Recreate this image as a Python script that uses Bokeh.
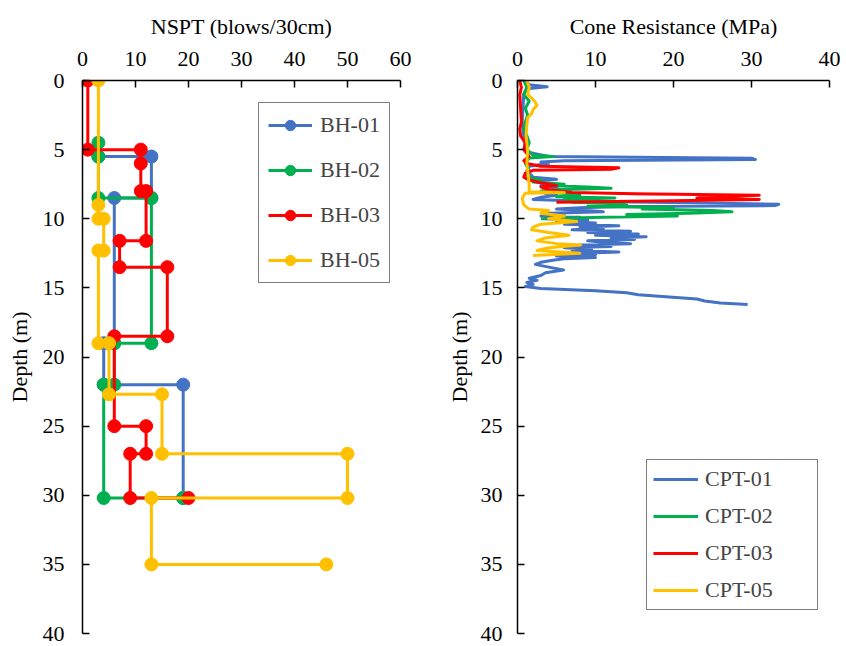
from bokeh.plotting import figure
from bokeh.models import Range1d, FixedTicker, Legend, LegendItem
from bokeh.layouts import row
from bokeh.embed import file_html
from bokeh.resources import INLINE

# ---------------- NSPT data (blows/30cm vs depth m) ----------------
bh01_n = [3, 13, 13, 6, 6, 4, 4, 19, 19]
bh01_d = [5.5, 5.5, 8.5, 8.5, 19, 19, 22, 22, 30.2]
bh02_n = [3, 3, 3, 13, 13, 6, 6, 4, 4, 19]
bh02_d = [4.5, 5.5, 8.5, 8.5, 19, 19, 22, 22, 30.2, 30.2]
bh03_n = [1, 1, 11, 11, 11, 12, 12, 7, 7, 16, 16, 6, 6, 12, 12, 9, 9, 20]
bh03_d = [0, 5, 5, 6, 8, 8, 11.6, 11.6, 13.5, 13.5, 18.5, 18.5, 25, 25, 27, 27, 30.2, 30.2]
bh05_n = [3, 3, 3, 4, 4, 3, 3, 5, 5, 15, 15, 50, 50, 13, 13, 46]
bh05_d = [0, 9, 10, 10, 12.3, 12.3, 19, 19, 22.7, 22.7, 27, 27, 30.2, 30.2, 35, 35]

# ---------------- CPT data (cone resistance MPa vs depth m) ----------------
cpt01_d = [0.0, 0.3, 0.45, 0.6, 1.0, 2.0, 3.0, 4.0, 4.8, 5.2, 5.5, 5.62, 5.72, 5.8, 5.9, 6.0,
           6.2, 6.5, 7.0, 7.15, 7.3, 7.45, 7.6, 7.8, 8.0, 8.15, 8.3, 8.45, 8.6, 8.75, 8.85, 8.95,
           9.05, 9.12, 9.2, 9.3, 9.4, 9.5, 9.6, 9.7, 9.8, 9.9, 10.0, 10.1, 10.2, 10.3, 10.4, 10.5,
           10.6, 10.7, 10.8, 10.9, 11.0, 11.1, 11.2, 11.3, 11.4, 11.5, 11.6, 11.7, 11.8, 11.9,
           12.0, 12.1, 12.2, 12.3, 12.4, 12.5, 12.6, 12.7, 12.8, 12.9, 13.0, 13.15, 13.3, 13.5,
           13.7, 13.9, 14.1, 14.3, 14.45, 14.6, 14.75, 14.9, 15.05, 15.2, 15.35, 15.5, 15.65,
           15.8, 15.95, 16.1, 16.2]
cpt01_q = [1.0, 1.5, 3.8, 1.2, 0.8, 0.7, 0.6, 0.8, 1.0, 1.5, 4.0, 30.0, 30.5, 6.0, 3.0, 4.0,
           1.5, 1.2, 2.0, 5.0, 2.0, 4.0, 3.0, 5.0, 6.0, 3.5, 5.0, 3.0, 2.0, 10.0, 22.0, 33.5,
           33.0, 14.0, 8.0, 5.0, 9.0, 11.0, 4.0, 6.0, 3.0, 8.0, 3.5, 9.0, 5.0, 10.0, 6.0, 13.0,
           8.0, 11.0, 7.0, 14.5, 9.0, 15.5, 10.0, 16.5, 12.0, 15.0, 9.0, 11.0, 14.5, 8.0,
           12.0, 6.0, 9.5, 7.0, 13.0, 8.0, 10.0, 5.0, 10.0, 6.0, 4.5, 3.0, 2.3, 4.0,
           5.9, 3.6, 3.0, 1.5, 2.5, 1.2, 2.0, 1.0, 3.0, 10.0, 14.0, 15.5, 19.0,
           23.0, 24.0, 26.0, 29.5]
cpt02_d = [0.0, 0.5, 1.0, 1.5, 2.0, 2.5, 3.0, 3.5, 4.0, 4.5, 5.0, 5.4, 5.5, 5.6, 6.0, 6.5, 7.0,
           7.2, 7.35, 7.5, 7.6, 7.7, 7.8, 7.9, 8.0, 8.1, 8.2, 8.3, 8.4, 8.5, 8.6, 8.7, 8.8, 8.9,
           9.0, 9.1, 9.2, 9.3, 9.4, 9.5, 9.6, 9.7, 9.8, 9.9, 10.0]
cpt02_q = [0.8, 1.2, 0.8, 1.5, 1.0, 1.3, 1.0, 0.8, 1.2, 1.5, 1.2, 2.0, 4.6, 1.5, 1.0, 1.5, 1.2,
           3.0, 2.0, 6.0, 4.0, 9.0, 12.0, 5.0, 3.0, 4.0, 7.0, 8.0, 5.0, 12.5, 6.0, 10.0, 7.0,
           13.0, 14.0, 9.0, 20.0, 16.0, 25.0, 27.5, 22.0, 14.0, 20.5, 11.0, 3.0]
cpt03_d = [0.0, 0.5, 1.0, 2.0, 3.0, 3.5, 4.0, 4.5, 5.0, 5.5, 5.8, 6.0, 6.2, 6.32, 6.42, 6.5,
           6.7, 7.0, 7.2, 7.4, 7.6, 7.7, 7.9, 8.1, 8.2, 8.3, 8.4, 8.5, 8.6, 8.7, 8.8]
cpt03_q = [0.3, 0.5, 0.3, 0.4, 0.5, 0.3, 0.4, 1.0, 0.8, 1.5, 0.8, 1.2, 3.0, 13.0, 12.0, 2.0,
           1.0, 0.8, 1.5, 3.0, 5.0, 3.0, 4.0, 7.0, 15.0, 31.0, 25.0, 23.0, 31.0, 20.0, 5.0]
cpt05_d = [0.0, 0.5, 1.0, 1.5, 1.8, 2.1, 2.4, 2.7, 3.2, 4.0, 5.0, 6.0, 7.0, 7.6, 8.05, 8.1, 8.15,
           8.5, 9.0, 9.3, 9.4, 9.6, 9.8, 10.0, 10.2, 10.4, 10.6, 10.8, 11.0, 11.2, 11.4, 11.6,
           11.8, 11.9, 12.1, 12.3, 12.5, 12.65]
cpt05_q = [1.2, 1.5, 1.3, 2.2, 2.5, 2.0, 1.8, 1.3, 1.2, 1.1, 1.3, 1.2, 1.4, 1.5, 1.5, 6.0, 1.0,
           0.6, 0.8, 1.5, 4.0, 3.0, 6.0, 4.0, 7.6, 3.0, 2.0, 1.8, 4.0, 6.6, 3.5, 2.5,
           5.0, 8.1, 4.0, 2.5, 8.0, 2.0]

nspt_ticks = [0, 10, 20, 30, 40, 50, 60]
cpt_ticks = [0, 10, 20, 30, 40]
depth_ticks = [0, 5, 10, 15, 20, 25, 30, 35, 40]

BLUE, GREEN, RED, YELLOW = "#4472C4", "#00B050", "#FF0000", "#FFC000"
FONT = "Liberation Serif"
FS = "22px"


def style(p, xlabel, x_ticks, lab_standoff, tick_standoff, title_standoff):
    p.xgrid.visible = False
    p.ygrid.visible = False
    p.outline_line_color = None
    for ax in (p.above[0], p.left[0]):
        ax.major_label_text_font = FONT
        ax.major_label_text_font_size = FS
        ax.major_label_text_color = "black"
        ax.axis_label_text_font = FONT
        ax.axis_label_text_font_size = FS
        ax.axis_label_text_font_style = "normal"
        ax.axis_label_text_color = "black"
        ax.axis_line_color = "black"
        ax.axis_line_width = 1.5
        ax.major_tick_line_color = "black"
        ax.major_tick_line_width = 1.5
        ax.major_tick_in = 7
        ax.major_tick_out = 0
        ax.minor_tick_line_color = None
    p.above[0].ticker = FixedTicker(ticks=x_ticks)
    p.above[0].major_label_standoff = tick_standoff
    p.left[0].axis_label = "Depth (m)"
    p.left[0].major_label_standoff = lab_standoff
    p.left[0].axis_label_standoff = 8
    p.left[0].ticker = FixedTicker(ticks=depth_ticks)
    # x-axis title as the figure title, centred above the top axis
    p.title.text = xlabel
    p.title.align = "center"
    p.title.text_font = FONT
    p.title.text_font_size = FS
    p.title.text_font_style = "normal"
    p.title.text_color = "black"
    p.title.standoff = title_standoff
    p.title.offset = 0


# ---------------- Left: NSPT ----------------
p1 = figure(width=440, height=646, frame_width=318, frame_height=553,
            x_range=Range1d(0, 60), y_range=Range1d(40, 0),
            x_axis_location="above", title_location="above",
            toolbar_location=None, output_backend="svg",
            min_border_left=82, min_border_right=40, min_border_top=80, min_border_bottom=13)
style(p1, "NSPT (blows/30cm)", nspt_ticks, 18, 15, 19)

items1 = []
for name, n, d, c in [("BH-01", bh01_n, bh01_d, BLUE), ("BH-02", bh02_n, bh02_d, GREEN),
                      ("BH-03", bh03_n, bh03_d, RED), ("BH-05", bh05_n, bh05_d, YELLOW)]:
    l = p1.line(n, d, line_color=c, line_width=3)
    s = p1.scatter(n, d, marker="circle", size=13, fill_color=c, line_color=c)
    items1.append(LegendItem(label=name, renderers=[l, s]))

leg1 = Legend(items=items1, location=(176, 350), label_text_font=FONT, label_text_font_size=FS,
              label_height=26, glyph_height=26, glyph_width=44, spacing=19, padding=9,
              label_standoff=8, border_line_color="black", border_line_width=1.5,
              background_fill_alpha=1.0)
p1.add_layout(leg1, "center")

# ---------------- Right: CPT ----------------
p2 = figure(width=406, height=646, frame_width=312, frame_height=553,
            x_range=Range1d(0, 40), y_range=Range1d(40, 0),
            x_axis_location="above", title_location="above",
            toolbar_location=None, output_backend="svg",
            min_border_left=77, min_border_right=17, min_border_top=80, min_border_bottom=13)
style(p2, "Cone Resistance (MPa)", cpt_ticks, 15, 15, 19)
p2.left[0].axis_label_standoff = 6

items2 = []
for name, q, d, c in [("CPT-01", cpt01_q, cpt01_d, BLUE), ("CPT-02", cpt02_q, cpt02_d, GREEN),
                      ("CPT-03", cpt03_q, cpt03_d, RED), ("CPT-05", cpt05_q, cpt05_d, YELLOW)]:
    l = p2.line(q, d, line_color=c, line_width=3, line_join="round")
    items2.append(LegendItem(label=name, renderers=[l]))

leg2 = Legend(items=items2, location=(129, 23), label_text_font=FONT, label_text_font_size=FS,
              label_height=26, glyph_height=26, glyph_width=45, spacing=11, padding=6,
              label_standoff=7, label_width=106, border_line_color="black",
              border_line_width=1.5, background_fill_alpha=1.0)
p2.add_layout(leg2, "center")

layout = row(p1, p2)
open("out.html", "w").write(file_html(layout, INLINE))
